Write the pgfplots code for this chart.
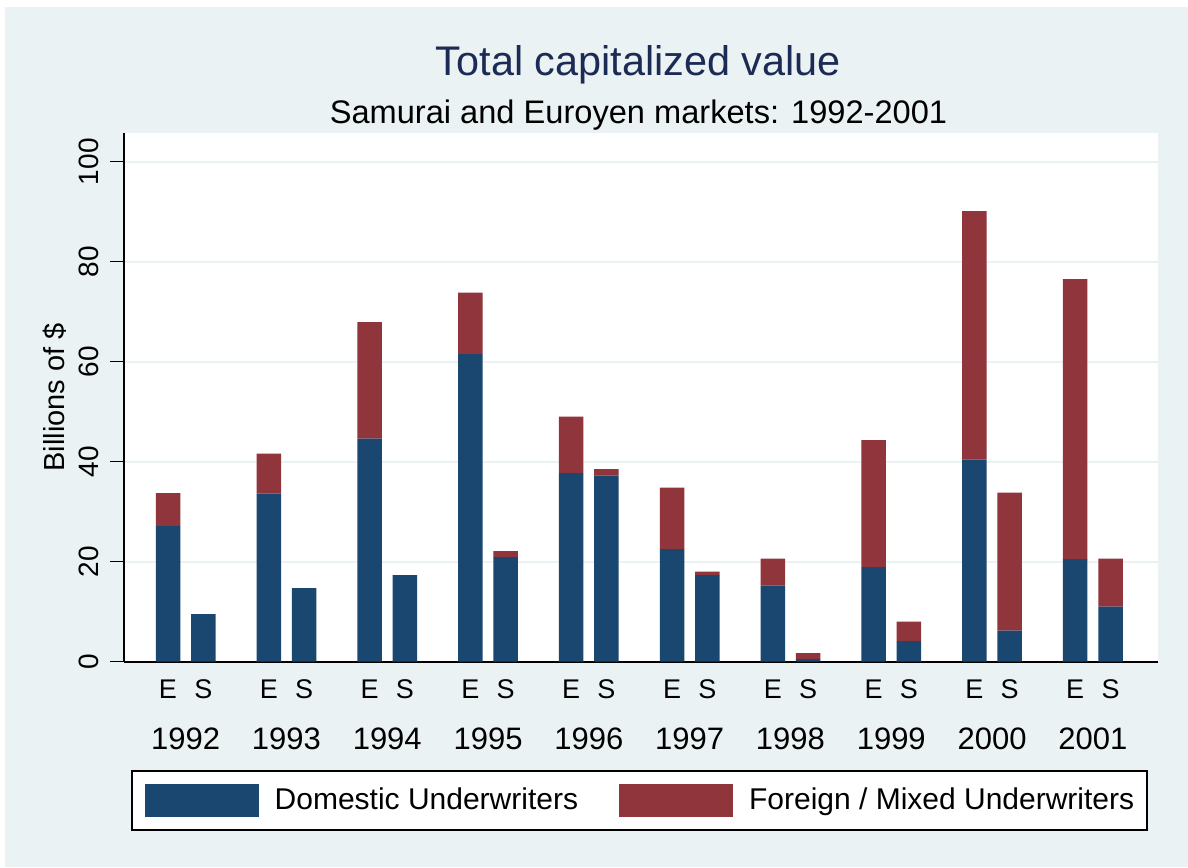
\documentclass[border=0pt]{standalone}
\usepackage{fontspec}
\setmainfont{Liberation Sans}
\usepackage{pgfplots}
\pgfplotsset{compat=1.18}
\definecolor{bgc}{RGB}{234,242,243}
\definecolor{navyS}{RGB}{26,71,111}
\definecolor{maroonS}{RGB}{144,53,59}
\definecolor{titc}{RGB}{28,43,85}
\pgfplotsset{sqlegend/.style={legend image code/.code={\fill[##1] (0pt,-8.25pt) rectangle (57pt,8.25pt);}}}
\begin{document}
\begin{tikzpicture}
\useasboundingbox (0pt,0pt) rectangle (594pt,433.5pt);
\fill[white] (0pt,0pt) rectangle (594pt,433.5pt);
\fill[bgc] (2.5pt,0pt) rectangle (594pt,430pt);
\node[anchor=base, text=titc, font=\fontsize{20.7}{24}\selectfont, inner sep=0pt] at (319.25pt,395.65pt) {Total capitalized value};
\node[anchor=base, font=\fontsize{16.3}{19}\selectfont, inner sep=0pt] at (319.25pt,371.5pt) {Samurai and Euroyen markets: 1992-2001};
\begin{axis}[
  at={(62pt,102.65pt)}, anchor=south west,
  scale only axis, width=517pt, height=264.35pt,
  xmin=-0.4365, xmax=9.821, ymin=0, ymax=105.74,
  axis background/.style={fill=white},
  axis lines=left, axis line style={-, black, line width=0.75pt},
  x axis line style={line width=1pt},
  ybar stacked, bar width=12.25pt,
  ytick={0,20,40,60,80,100},
  ytick pos=left, tick align=outside, major tick length=6.85pt,
  ytick style={black, line width=0.75pt},
  xtick style={draw=none},
  ymajorgrids, major grid style={bgc, line width=1pt},
  /pgf/number format/assume math mode=true,
  yticklabel style={rotate=90, anchor=south, inner sep=0pt, font=\fontsize{14}{16}\selectfont},
  yticklabel shift=5.5pt,
  ylabel={Billions of \$},
  ylabel style={at={(axis description cs:-0.0667,0.5)}, anchor=center, font=\fontsize{14.5}{17}\selectfont},
  xtick={0,0.35,1,1.35,2,2.35,3,3.35,4,4.35,5,5.35,6,6.35,7,7.35,8,8.35,9,9.35},
  xticklabels={E,S,E,S,E,S,E,S,E,S,E,S,E,S,E,S,E,S,E,S},
  xticklabel style={anchor=base, yshift=-11.45pt, inner sep=0pt, font=\fontsize{13.5}{15}\selectfont},
  extra x ticks={0.175,1.175,2.175,3.175,4.175,5.175,6.175,7.175,8.175,9.175},
  extra x tick labels={1992,1993,1994,1995,1996,1997,1998,1999,2000,2001},
  extra x tick style={grid=none, tick style={draw=none}, xticklabel style={yshift=-25.5pt, font=\fontsize{15.5}{18}\selectfont}},
  legend columns=2,
  legend style={at={(axis description cs:0.4985,-0.2048)}, anchor=north, draw=black, line width=0.9pt, fill=white,
    inner xsep=6.5pt, inner ysep=6.5pt, font=\fontsize{15}{18}\selectfont,
    nodes={inner sep=0pt},
    /tikz/every odd column/.append style={column sep=8pt},
    /tikz/every even column/.append style={column sep=20.5pt}},
]
\addplot[fill=navyS, draw=none, sqlegend] coordinates {(0,27.1)(0.35,9.5)(1,33.6)(1.35,14.7)(2,44.6)(2.35,17.3)(3,61.5)(3.35,20.9)(4,37.7)(4.35,37.2)(5,22.5)(5.35,17.3)(6,15.2)(6.35,0.5)(7,18.9)(7.35,4.1)(8,40.4)(8.35,6.2)(9,20.5)(9.35,11.0)};
\addlegendentry{Domestic Underwriters}
\addplot[fill=maroonS, draw=none, sqlegend] coordinates {(0,6.6)(0.35,0)(1,8.0)(1.35,0)(2,23.3)(2.35,0)(3,12.3)(3.35,1.2)(4,11.3)(4.35,1.3)(5,12.3)(5.35,0.7)(6,5.4)(6.35,1.2)(7,25.4)(7.35,3.9)(8,49.7)(8.35,27.6)(9,56.0)(9.35,9.6)};
\addlegendentry{Foreign / Mixed Underwriters}
\end{axis}
\end{tikzpicture}
\end{document}
